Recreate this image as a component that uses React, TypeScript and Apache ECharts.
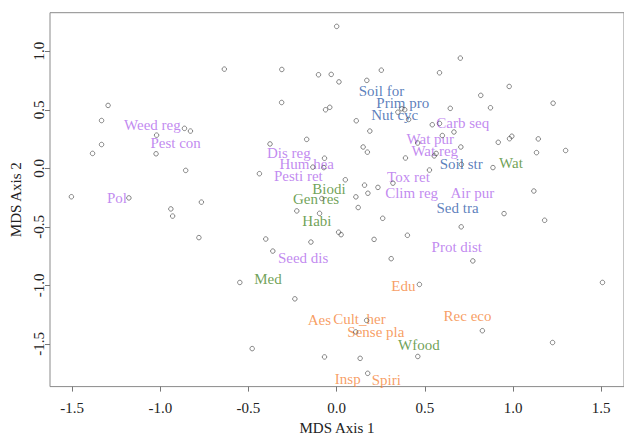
import React, { useEffect, useRef } from "react";
import * as echarts from "echarts";

// Site scores (open circles)
const siteX = [
  -0.637, -0.311, -0.312, -1.296, -1.333, -0.863, -0.829, -1.021, -1.333, -0.378,
  -0.170, -1.384, -1.024, -0.856, -0.438, -0.135, -1.504, -1.178, -0.940, -0.930,
  -0.767, -0.226, 0.000, 0.701, -0.103, -0.031, 0.253, 0.013, 0.171, 0.583,
  0.978, 0.817, 1.227, 0.872, 0.644, -0.063, -0.039, 0.111, 0.369, 0.386,
  0.347, 0.408, 0.188, 0.542, 0.583, 0.665, 0.599, 0.459, 0.704, 0.916,
  0.980, 0.993, 1.143, 1.133, 1.298, 0.150, 0.174, -0.069, 0.390, 0.553,
  0.564, 0.707, 0.886, 0.526, -0.073, 0.049, 0.158, 0.234, 0.177, 0.109,
  0.319, 0.122, 1.118, 0.949, -0.084, -0.097, 1.179, 0.706, 0.401, 0.261,
  0.011, 0.025, -0.146, 0.212, 0.309, 0.772, 1.507, 0.469, 0.170, 0.108,
  0.826, 1.224, -0.069, 0.133, 0.460, 0.176, -0.781, -0.402, -0.362, -0.549,
  -0.237, -0.479,
];
const siteY = [
  0.847, 0.844, 0.562, 0.537, 0.408, 0.341, 0.318, 0.283, 0.203, 0.208,
  0.247, 0.127, 0.124, -0.018, -0.046, 0.010, -0.243, -0.253, -0.347, -0.408,
  -0.289, -0.364, 1.212, 0.941, 0.799, 0.802, 0.838, 0.738, 0.751, 0.816,
  0.699, 0.623, 0.556, 0.517, 0.512, 0.500, 0.521, 0.406, 0.509, 0.500,
  0.479, 0.417, 0.318, 0.372, 0.383, 0.310, 0.280, 0.216, 0.182, 0.222,
  0.253, 0.274, 0.251, 0.134, 0.152, 0.182, 0.138, 0.086, 0.088, 0.106,
  0.127, 0.033, 0.006, -0.015, 0.006, -0.098, -0.144, -0.163, -0.213, -0.244,
  -0.127, -0.335, -0.194, -0.387, -0.258, -0.385, -0.444, -0.500, -0.572, -0.427,
  -0.546, -0.567, -0.630, -0.607, -0.772, -0.791, -0.975, -0.992, -1.299, -1.397,
  -1.387, -1.488, -1.611, -1.623, -1.607, -1.751, -0.592, -0.604, -0.707, -0.975,
  -1.115, -1.540,
];

// Ecosystem service scores (text labels)
const serviceNames = [
  "Weed reg", "Pest con", "Dis reg", "Pol", "Hum hea", "Pesti ret", "Biodi", "Gen res",
  "Habi", "Tox ret", "Clim reg", "Air pur", "Sed tra", "Soil str", "Wat", "Wat pur",
  "Wat reg", "Carb seq", "Soil for", "Prim pro", "Nut cyc", "Seed dis", "Med", "Edu",
  "Prot dist", "Aes", "Cult_her", "Sense pla", "Wfood", "Insp", "Spiri", "Rec eco",
];
const serviceX = [
  -1.045, -0.913, -0.271, -1.246, -0.170, -0.217, -0.044, -0.117,
  -0.112, 0.407, 0.425, 0.769, 0.685, 0.706, 0.988, 0.531,
  0.556, 0.715, 0.254, 0.375, 0.329, -0.190, -0.390, 0.378,
  0.681, -0.098, 0.129, 0.222, 0.466, 0.063, 0.281, 0.742,
];
const serviceY = [
  0.367, 0.216, 0.130, -0.253, 0.040, -0.065, -0.174, -0.261,
  -0.450, -0.071, -0.211, -0.213, -0.339, 0.040, 0.046, 0.249,
  0.146, 0.389, 0.657, 0.554, 0.459, -0.768, -0.944, -1.006,
  -0.671, -1.299, -1.285, -1.402, -1.508, -1.803, -1.809, -1.259,
];
const serviceGroup = [
  "reg", "reg", "reg", "reg", "reg", "reg", "prov", "prov",
  "prov", "reg", "reg", "reg", "sup", "sup", "prov", "reg",
  "reg", "reg", "sup", "sup", "sup", "reg", "prov", "cult",
  "reg", "cult", "cult", "cult", "prov", "cult", "cult", "cult",
];

const xTicks = [-1.5, -1.0, -0.5, 0.0, 0.5, 1.0, 1.5];
const yTicks = [-1.5, -1.0, -0.5, 0.0, 0.5, 1.0];

const groupColors: Record<string, string> = {
  reg: "#b26cec",
  sup: "#3360ab",
  prov: "#4c8a2c",
  cult: "#f5863c",
};

const FONT = '"Liberation Serif", "Times New Roman", serif';

export default function App() {
  const ref = useRef<HTMLDivElement>(null);
  useEffect(() => {
    if (!ref.current) return;
    const chart = echarts.init(ref.current, undefined, { renderer: "svg" });
    const fmt = (v: number) => v.toFixed(1);
    chart.setOption({
      animation: false,
      backgroundColor: "#ffffff",
      grid: {
        left: 50,
        top: 12.7,
        bottom: 45.7,
        right: -5.3,
        show: true,
        borderColor: "#8a8a8a",
        borderWidth: 1,
        backgroundColor: "transparent",
      },
      xAxis: {
        type: "value",
        min: -1.6253,
        max: 1.629,
        axisLine: { show: false, onZero: false },
        splitLine: { show: false },
        axisTick: {
          show: true,
          customValues: xTicks,
          length: 5,
          lineStyle: { color: "#777" },
        },
        axisLabel: {
          customValues: xTicks,
          formatter: fmt,
          margin: 13.5,
          fontSize: 15,
          fontFamily: FONT,
          color: "#222",
        },
        name: "MDS Axis 1",
        nameLocation: "middle",
        nameGap: 32,
        nameTextStyle: { fontSize: 15, fontFamily: FONT, color: "#222" },
      },
      yAxis: {
        type: "value",
        min: -1.8644,
        max: 1.3289,
        axisLine: { show: false, onZero: false },
        splitLine: { show: false },
        axisTick: {
          show: true,
          customValues: yTicks,
          length: 5,
          lineStyle: { color: "#777" },
        },
        axisLabel: {
          customValues: yTicks,
          formatter: fmt,
          rotate: 90,
          margin: 3.7,
          fontSize: 15,
          fontFamily: FONT,
          color: "#222",
        },
        name: "MDS Axis 2",
        nameLocation: "middle",
        nameGap: 24.2,
        nameTextStyle: { fontSize: 15, fontFamily: FONT, color: "#222" },
      },
      series: [
        {
          type: "scatter",
          symbol: "circle",
          symbolSize: 4.5,
          silent: true,
          itemStyle: { color: "rgba(255,255,255,0)", borderColor: "#555", borderWidth: 0.9 },
          data: siteX.map((x, i) => [x, siteY[i]]),
          z: 3,
        },
        {
          type: "scatter",
          symbolSize: 0,
          silent: true,
          itemStyle: { color: "rgba(0,0,0,0)" },
          label: {
            show: true,
            position: "inside",
            formatter: "{b}",
            fontSize: 15,
            fontFamily: FONT,
          },
          data: serviceNames.map((n, i) => ({
            name: n,
            value: [serviceX[i], serviceY[i]],
            label: { color: groupColors[serviceGroup[i]] },
          })),
          z: 2,
        },
      ],
    });
    return () => chart.dispose();
  }, []);
  return (
    <div
      ref={ref}
      style={{ position: "fixed", left: 0, top: 0, width: 624, height: 440, background: "#fff" }}
    />
  );
}
